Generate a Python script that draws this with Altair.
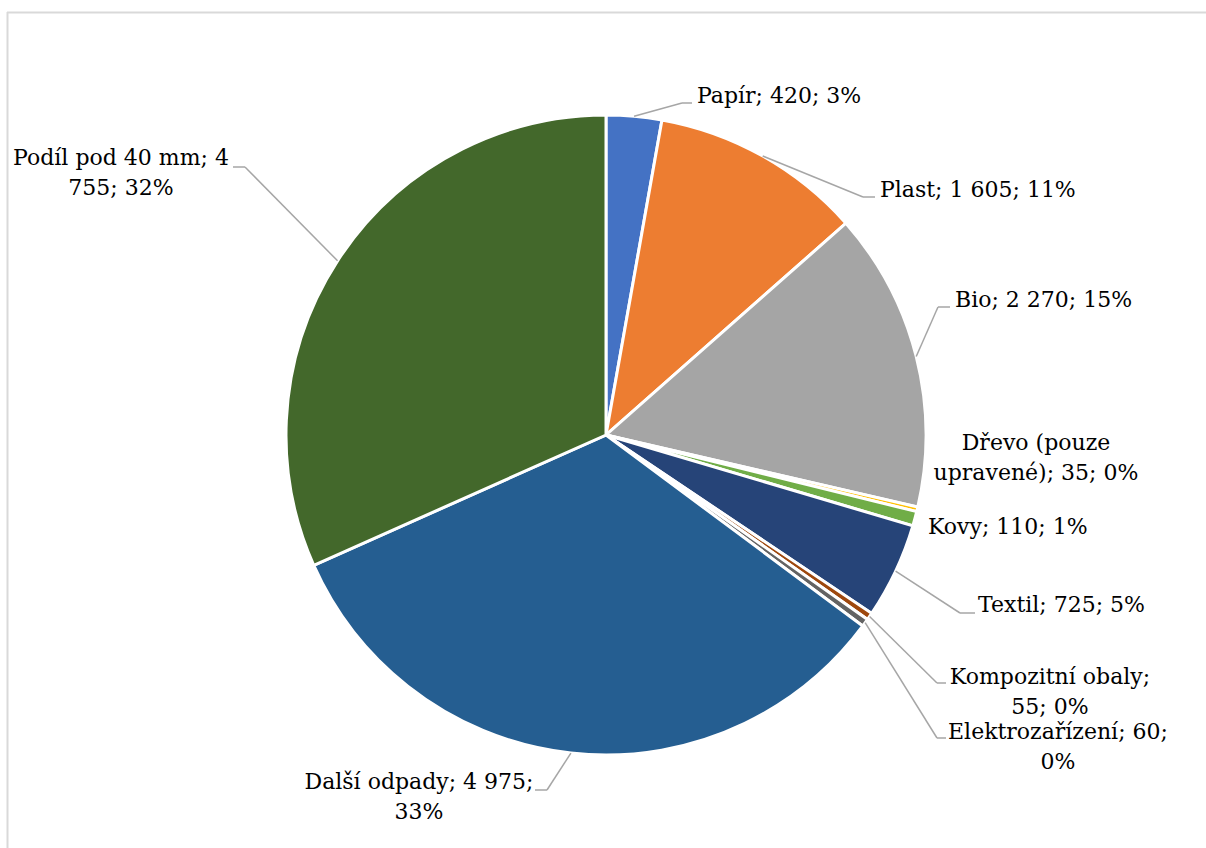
import altair as alt
import pandas as pd

# ---- data ----
categories = ["Papír", "Plast", "Bio", "Dřevo (pouze upravené)", "Kovy", "Textil",
              "Kompozitní obaly", "Elektrozařízení", "Další odpady", "Podíl pod 40 mm"]
values = [420, 1605, 2270, 35, 110, 725, 55, 60, 4975, 4755]
colors = ["#4472C4", "#ED7D31", "#A5A5A5", "#FFC000", "#70AD47", "#264478",
          "#9E480E", "#636363", "#255E91", "#43682B"]

# ---- layout (label placement as in the original) ----
CX, CY, R = 606, 435, 320
FONT = "DejaVu Serif"
FS = 22
break_at = [None, None, None, 12, None, None, 17, 20, 20, 18]
label_x = [697, 880, 955, 1036, 928, 978, 1050, 1058, 419, 121]
label_y = [96, 190, 300, 443, 527, 605, 677, 732, 782, 158]  # first-line centre
label_align = ["left", "left", "left", "center", "left", "left", "center", "center", "center", "center"]
elbow_x = [682, 863, 938, None, None, 960, 937, 937, 547, 245]
elbow_y = [103, 197, 307, None, None, 613, 683, 738, 790, 167]
end_x = [692, 875, 950, None, None, 975, 946, 946, 535, 233]
end_y = [103, 197, 307, None, None, 613, 683, 738, 790, 167]

total = sum(values)


def fmt(v):
    return f"{v:,}".replace(",", " ")


labels = []
for c, v, k in zip(categories, values, break_at):
    s = f"{c}; {fmt(v)}; {round(v / total * 100)}%"
    if k is not None:
        s = s[:k] + "\n" + s[k + 1:]
    labels.append(s)

df = pd.DataFrame({
    "idx": list(range(len(categories))),
    "category": categories,
    "value": values,
    "label": labels,
    "lx": label_x,
    "ly": label_y,
    "al": label_align,
    "bx": elbow_x,
    "by": elbow_y,
    "ex": end_x,
    "ey": end_y,
})

base = alt.Chart(df)

pie = base.mark_arc(radius=R, stroke="white", strokeWidth=3).encode(
    theta=alt.Theta("value:Q", stack=True),
    color=alt.Color("category:N", scale=alt.Scale(domain=categories, range=colors), legend=None),
    order=alt.Order("idx:Q"),
    x=alt.value(CX),
    y=alt.value(CY),
)

lead_base = base.transform_window(
    cum="sum(value)", sort=[alt.SortField("idx")], frame=[None, 0]
).transform_joinaggregate(
    total="sum(value)"
).transform_calculate(
    mid="(datum.cum - datum.value / 2) / datum.total * 2 * PI"
).transform_calculate(
    sx=f"{CX} + {R} * sin(datum.mid)",
    sy=f"{CY} - {R} * cos(datum.mid)",
).transform_filter("isValid(datum.bx)")

lead1 = lead_base.mark_rule(color="#A6A6A6", strokeWidth=1.5).encode(
    x=alt.X("sx:Q", scale=None), y=alt.Y("sy:Q", scale=None),
    x2=alt.X2("bx:Q"), y2=alt.Y2("by:Q"),
)
lead2 = lead_base.mark_rule(color="#A6A6A6", strokeWidth=1.5).encode(
    x=alt.X("bx:Q", scale=None), y=alt.Y("by:Q", scale=None),
    x2=alt.X2("ex:Q"), y2=alt.Y2("ey:Q"),
)

text_left = base.transform_filter("datum.al == 'left'").mark_text(
    font=FONT, fontSize=FS, lineHeight=30, baseline="middle", align="left",
    lineBreak="\n", color="black"
).encode(x=alt.X("lx:Q", scale=None), y=alt.Y("ly:Q", scale=None), text="label:N")

text_center = base.transform_filter("datum.al == 'center'").mark_text(
    font=FONT, fontSize=FS, lineHeight=30, baseline="middle", align="center",
    lineBreak="\n", color="black"
).encode(x=alt.X("lx:Q", scale=None), y=alt.Y("ly:Q", scale=None), text="label:N")

frame_data = alt.Data(values=[{"a": 1}])
border_top = alt.Chart(frame_data).mark_rule(color="#D9D9D9", strokeWidth=2).encode(
    x=alt.value(7), x2=alt.value(1206), y=alt.value(12.5)
)
border_left = alt.Chart(frame_data).mark_rule(color="#D9D9D9", strokeWidth=2).encode(
    x=alt.value(7.5), y=alt.value(12), y2=alt.value(848)
)

chart = alt.layer(
    border_top, border_left, pie, lead1, lead2, text_left, text_center
).properties(
    width=1206, height=848, padding=0, autosize=alt.AutoSizeParams(type="none"),
    background="white"
).configure_view(strokeWidth=0)

chart.save("out.html", embed_options={"renderer": "svg", "actions": False})
